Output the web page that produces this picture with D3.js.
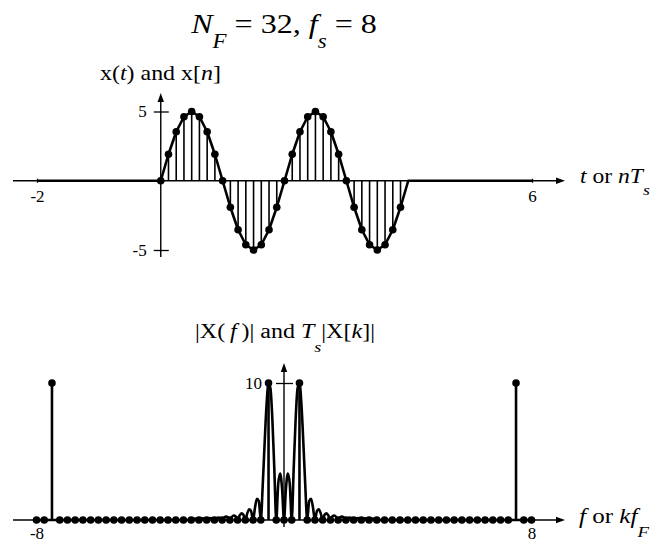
<!DOCTYPE html>
<html><head><meta charset="utf-8">
<script src="https://cdn.jsdelivr.net/npm/d3@7"></script>
<style>
body{margin:0;background:#fff}
text{font-family:"Liberation Serif","Times New Roman",serif;fill:#000}
</style>
</head><body>
<svg id="c" width="652" height="542"></svg>
<script>
// ---------- data ----------
const sampleTimes = [0,0.125,0.25,0.375,0.5,0.625,0.75,0.875,1,1.125,1.25,1.375,1.5,1.625,1.75,1.875,
                     2,2.125,2.25,2.375,2.5,2.625,2.75,2.875,3,3.125,3.25,3.375,3.5,3.625,3.75,3.875];
const sampleValues = [0,1.913,3.536,4.619,5,4.619,3.536,1.913,0,-1.913,-3.536,-4.619,-5,-4.619,-3.536,-1.913,
                      0,1.913,3.536,4.619,5,4.619,3.536,1.913,0,-1.913,-3.536,-4.619,-5,-4.619,-3.536,-1.913];
const signalStartTimes = [-2, -1];
const signalEndTimes = [4, 6];
const timeTicks = [-2, 6];
const ampTicks = [-5, 5];

const fF = 0.25;                      // frequency resolution f_s / N_F
const dftIndex = d3.range(-32, 33);   // k = -32 .. 32
const dftMags = [0,0,10,0,0,0,0,0,0,0, 0,0,0,0,0,0,0,0,0,0, 0,0,0,0,0,0,0,0,0,0,
                 10,0,0,0,10,0,0,0,0,0, 0,0,0,0,0,0,0,0,0,0, 0,0,0,0,0,0,0,0,0,0, 0,0,10,0,0];
const specStep = 0.0625;
const specIndex = d3.range(-48, 49);  // f = -3 .. 3
const specMags = [0,0.067,0.099,0.073,0,0.081,0.120,0.089,0,0.099,0.148,0.110,0,0.124,0.187,0.141,
  0,0.161,0.244,0.185,0,0.217,0.333,0.257,0,0.310,0.485,0.382,0,0.485,0.784,0.640,
  0,0.895,1.543,1.372,0,2.527,5.659,8.474,10,9.603,7.276,3.694,0,2.619,3.395,2.287,
  0,
  2.287,3.395,2.619,0,3.694,7.276,9.603,10,8.474,5.659,2.527,0,1.372,1.543,0.895,
  0,0.640,0.784,0.485,0,0.382,0.485,0.310,0,0.257,0.333,0.217,0,0.185,0.244,0.161,
  0,0.141,0.187,0.124,0,0.110,0.148,0.099,0,0.089,0.120,0.081,0,0.073,0.099,0.067,0];
const freqTicks = [-8, 8];
const magTicks = [10];

// ---------- setup ----------
const svg = d3.select("#c");
const xTop = d3.scaleLinear([-2, 6], [37, 532]);
const yTop = d3.scaleLinear([-5, 5], [250, 111.5]);
const xBot = d3.scaleLinear([-8, 8], [36.5, 531.5]);
const yBot = d3.scaleLinear([0, 10], [520, 383]);
const plainFmt = d => String(d);

function arrowAxis(x1, y1, x2, y2) {
  const g = svg.append("g");
  const dx = x2 - x1, dy = y2 - y1, L = Math.hypot(dx, dy), ux = dx / L, uy = dy / L;
  const hl = 9, hw = 3.2;
  g.append("line").attr("x1", x1).attr("y1", y1).attr("x2", x2 - ux * hl * 0.6).attr("y2", y2 - uy * hl * 0.6)
    .attr("stroke", "#000").attr("stroke-width", 1.4);
  const bx = x2 - ux * hl, by = y2 - uy * hl;
  g.append("path").attr("d", `M${x2},${y2}L${bx - uy * hw},${by + ux * hw}L${bx + uy * hw},${by - ux * hw}Z`)
    .attr("fill", "#000");
}

function richText(g, parts, size, subSize, subShift) {
  const t = g.append("text").attr("font-size", size);
  let down = false;
  parts.forEach(p => {
    const ts = t.append("tspan").text(p.t);
    if (p.i) ts.attr("font-style", "italic");
    if (p.s) { ts.attr("font-size", subSize); if (!down) { ts.attr("dy", subShift); down = true; } }
    else if (down) { ts.attr("dy", -subShift); down = false; }
  });
  return t;
}
function placeFit(parts, left, right, baseline, size, subSize, subShift) {
  const g = svg.append("g");
  const t = richText(g, parts, size, subSize, subShift);
  const bb = t.node().getBBox();
  const sx = (right - left) / bb.width;
  g.attr("transform", `translate(${left - bb.x * sx},${baseline}) scale(${sx},1)`);
}
function styleAxis(g, size) {
  g.attr("font-family", null).attr("font-size", null);
  g.select(".domain").remove();
  g.selectAll(".tick line").attr("stroke", "#000").attr("stroke-width", 1.3);
  g.selectAll(".tick text")
    .style("font-family", "'Liberation Serif','Times New Roman',serif")
    .style("font-size", size + "px").attr("fill", "#000");
}

// ---------- titles ----------
placeFit([{t:"N",i:1},{t:"F",i:1,s:1},{t:" = 32, "},{t:"f",i:1},{t:"s",i:1,s:1},{t:" = 8"}],
  190, 377, 33, 28, 20, 15);
placeFit([{t:"x("},{t:"t",i:1},{t:") and x["},{t:"n",i:1},{t:"]"}], 100, 221, 80, 21, 15, 0);
placeFit([{t:"|X(\u2009"},{t:"f",i:1},{t:"\u2009)| and "},{t:"T",i:1},{t:"s",i:1,s:1},{t:"|X["},{t:"k",i:1},{t:"]|"}],
  195, 375, 338, 20, 15, 14);
placeFit([{t:"t",i:1},{t:" or "},{t:"nT",i:1},{t:"s",i:1,s:1}], 580, 650, 183, 20, 15, 12);
placeFit([{t:"f",i:1},{t:" or "},{t:"kf",i:1},{t:"F",i:1,s:1}], 579, 650, 523, 20, 15, 14);

// ---------- top panel ----------
arrowAxis(13, yTop(0), 565, yTop(0));
arrowAxis(xTop(0), 257, xTop(0), 93);
const gxT = svg.append("g").attr("transform", `translate(0,${yTop(0) - 2})`)
  .call(d3.axisBottom(xTop).tickValues(timeTicks).tickSize(4).tickPadding(6.9).tickFormat(plainFmt));
styleAxis(gxT, 17);
const gyT = svg.append("g").attr("transform", `translate(${xTop(0) + 8},0)`)
  .call(d3.axisLeft(yTop).tickValues(ampTicks).tickSize(15).tickPadding(7).tickFormat(plainFmt));
styleAxis(gyT, 17);

const samples = sampleTimes.map((t, i) => ({t, v: sampleValues[i]}));
svg.append("g").selectAll("line").data(samples).join("line")
  .attr("x1", d => xTop(d.t)).attr("x2", d => xTop(d.t))
  .attr("y1", yTop(0)).attr("y2", d => yTop(d.v))
  .attr("stroke", "#000").attr("stroke-width", 1.6);

const signal = [
  {t: signalStartTimes[0], v: 0},
  ...samples,
  {t: signalEndTimes[0], v: 0},
  {t: signalEndTimes[1], v: 0}
];
svg.append("path").datum(signal)
  .attr("d", d3.line().x(d => xTop(d.t)).y(d => yTop(d.v)))
  .attr("fill", "none").attr("stroke", "#000").attr("stroke-width", 2.6).attr("stroke-linejoin", "round");
svg.append("g").selectAll("circle").data(samples).join("circle")
  .attr("cx", d => xTop(d.t)).attr("cy", d => yTop(d.v)).attr("r", 3.8).attr("fill", "#000");

// ---------- bottom panel ----------
arrowAxis(13, yBot(0), 565, yBot(0));
arrowAxis(xBot(0), 527, xBot(0), 363);
const gxB = svg.append("g").attr("transform", `translate(0,${yBot(0) - 2})`)
  .call(d3.axisBottom(xBot).tickValues(freqTicks).tickSize(4).tickPadding(4.9).tickFormat(plainFmt));
styleAxis(gxB, 17);
const gyB = svg.append("g").attr("transform", `translate(${xBot(0) + 9},0)`)
  .call(d3.axisLeft(yBot).tickValues(magTicks).tickSize(17).tickPadding(14).tickFormat(plainFmt));
styleAxis(gyB, 17);

const spec = [{f: -8, m: 0}, ...specIndex.map((k, i) => ({f: k * specStep, m: specMags[i]})), {f: 8, m: 0}];
svg.append("path").datum(spec)
  .attr("d", d3.line().x(d => xBot(d.f)).y(d => yBot(d.m)).curve(d3.curveMonotoneX))
  .attr("fill", "none").attr("stroke", "#000").attr("stroke-width", 2.6).attr("stroke-linejoin", "round");

const dft = dftIndex.map((k, i) => ({f: k * fF, m: dftMags[i]}));
svg.append("g").selectAll("line").data(dft.filter(d => d.m > 0)).join("line")
  .attr("x1", d => xBot(d.f)).attr("x2", d => xBot(d.f))
  .attr("y1", yBot(0)).attr("y2", d => yBot(d.m))
  .attr("stroke", "#000").attr("stroke-width", 2.6);
svg.append("g").selectAll("circle").data(dft).join("circle")
  .attr("cx", d => xBot(d.f)).attr("cy", d => yBot(d.m)).attr("r", 3.8).attr("fill", "#000");
</script>
</body></html>
